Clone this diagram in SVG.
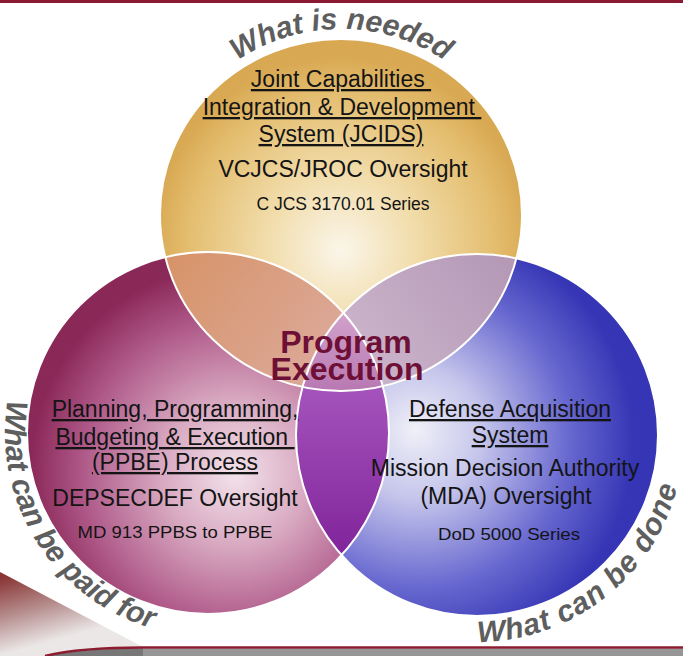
<svg xmlns="http://www.w3.org/2000/svg" width="683" height="656" viewBox="0 0 683 656">
<defs>
<style>
.t{font-family:"Liberation Sans",Arial,sans-serif;fill:#141414;text-anchor:middle}
.u{text-decoration:underline}
.arc{font-family:"Liberation Sans",Arial,sans-serif;font-weight:bold;font-style:italic;font-size:30px;fill:#5e5e5e}
.pe{font-family:"Liberation Sans",Arial,sans-serif;font-weight:bold;font-size:32px;fill:#6e0f36;text-anchor:middle}
.ol{fill:none;stroke:#ffffff;stroke-width:2}
</style>
<radialGradient id="gTop" gradientUnits="userSpaceOnUse" cx="341" cy="245" r="190" fx="341" fy="250">
<stop offset="0" stop-color="#fbf6ea"/><stop offset="0.4" stop-color="#f1dcaa"/><stop offset="0.8" stop-color="#e4be70"/><stop offset="1" stop-color="#d8a852"/>
</radialGradient>
<radialGradient id="gLeft" gradientUnits="userSpaceOnUse" cx="235" cy="470" r="205" fx="235" fy="475">
<stop offset="0" stop-color="#f2e2ea"/><stop offset="0.35" stop-color="#d9aac2"/><stop offset="0.75" stop-color="#ae5888"/><stop offset="1" stop-color="#8a2858"/>
</radialGradient>
<radialGradient id="gRight" gradientUnits="userSpaceOnUse" cx="420" cy="440" r="215" fx="415" fy="430">
<stop offset="0" stop-color="#f0f0f8"/><stop offset="0.3" stop-color="#c6c6ec"/><stop offset="0.7" stop-color="#6868d0"/><stop offset="1" stop-color="#3535b5"/>
</radialGradient>
<linearGradient id="gLT" gradientUnits="userSpaceOnUse" x1="170" y1="265" x2="330" y2="380">
<stop offset="0" stop-color="#d7946a"/><stop offset="1" stop-color="#dcaa9c"/>
</linearGradient>
<linearGradient id="gRT" gradientUnits="userSpaceOnUse" x1="515" y1="265" x2="360" y2="380">
<stop offset="0" stop-color="#b498b6"/><stop offset="1" stop-color="#ccb6cc"/>
</linearGradient>
<linearGradient id="gLR" gradientUnits="userSpaceOnUse" x1="0" y1="390" x2="0" y2="555">
<stop offset="0" stop-color="#a452bc"/><stop offset="1" stop-color="#80249a"/>
</linearGradient>
<linearGradient id="gC" gradientUnits="userSpaceOnUse" x1="0" y1="312" x2="0" y2="392">
<stop offset="0" stop-color="#d2a2cc"/><stop offset="1" stop-color="#b878b2"/>
</linearGradient>
<linearGradient id="gWedge" gradientUnits="userSpaceOnUse" x1="0" y1="578" x2="20" y2="650">
<stop offset="0" stop-color="#8a3434"/><stop offset="0.5" stop-color="#b48a8a"/><stop offset="1" stop-color="#ebe7e7"/>
</linearGradient>
<clipPath id="cTop"><ellipse cx="341" cy="215" rx="181" ry="176"/></clipPath>
<clipPath id="cLeft"><circle cx="208" cy="433" r="181"/></clipPath>
<clipPath id="cRight"><circle cx="477" cy="435" r="181"/></clipPath>
<path id="pTop" d="M155 215 A186 186 0 0 1 527 215"/>
<path id="pLeft" d="M7.7 400 A203 203 0 0 0 309.5 608.8"/>
<path id="pRight" d="M441.1 638.9 A207 207 0 0 0 671.5 364.2"/>
</defs>
<rect x="0" y="0" width="683" height="656" fill="#ffffff"/>
<rect x="0" y="0" width="683" height="3" fill="#8a1a30"/>

<g id="circles">
<ellipse cx="341" cy="215" rx="181" ry="176" fill="url(#gTop)"/>
<circle cx="208" cy="433" r="181" fill="url(#gLeft)"/>
<circle cx="477" cy="435" r="181" fill="url(#gRight)"/>
<circle cx="208" cy="433" r="181" fill="url(#gLT)" clip-path="url(#cTop)"/>
<circle cx="477" cy="435" r="181" fill="url(#gRT)" clip-path="url(#cTop)"/>
<circle cx="477" cy="435" r="181" fill="url(#gLR)" clip-path="url(#cLeft)"/>
<g clip-path="url(#cLeft)"><ellipse cx="341" cy="215" rx="181" ry="176" fill="url(#gC)" clip-path="url(#cRight)"/></g>
<ellipse class="ol" cx="341" cy="215" rx="181" ry="176"/>
<circle class="ol" cx="208" cy="433" r="181"/>
<circle class="ol" cx="477" cy="435" r="181"/>
</g>

<g id="node-jcids">
<text class="t u" x="341" y="87" font-size="23">Joint Capabilities&#160;</text>
<text class="t u" x="342" y="115" font-size="23">Integration &amp; Development&#160;</text>
<text class="t u" x="341" y="142" font-size="23">System (JCIDS)</text>
<text class="t" x="343" y="177" font-size="23">VCJCS/JROC Oversight</text>
<text class="t" x="343" y="210" font-size="17.5">C JCS 3170.01 Series</text>
</g>

<g id="node-ppbe">
<text class="t u" x="175" y="417" font-size="23">Planning, Programming,</text>
<text class="t u" x="175" y="445" font-size="23">Budgeting &amp; Execution&#160;</text>
<text class="t u" x="175" y="470" font-size="23">(PPBE) Process</text>
<text class="t" x="175" y="506" font-size="23">DEPSECDEF Oversight</text>
<text class="t" x="175" y="538" font-size="17" textLength="195" lengthAdjust="spacingAndGlyphs">MD 913 PPBS to PPBE</text>
</g>

<g id="node-das">
<text class="t u" x="510" y="417" font-size="23">Defense Acquisition</text>
<text class="t u" x="510" y="443" font-size="23">System</text>
<text class="t" x="505" y="476" font-size="23">Mission Decision Authority</text>
<text class="t" x="506" y="504" font-size="23">(MDA) Oversight</text>
<text class="t" x="509" y="540" font-size="17" textLength="142" lengthAdjust="spacingAndGlyphs">DoD 5000 Series</text>
</g>

<g id="node-program-execution">
<text class="pe" x="346" y="353">Program</text>
<text class="pe" x="347" y="380">Execution</text>
</g>

<g id="arc-labels">
<text class="arc" font-size="29"><textPath href="#pTop" startOffset="50%" text-anchor="middle">What is needed</textPath></text>
<text class="arc"><textPath href="#pLeft" startOffset="0">What can be paid for</textPath></text>
<text class="arc" letter-spacing="1"><textPath href="#pRight" startOffset="40%" text-anchor="middle">What can be done</textPath></text>
</g>

<g id="footer">
<path d="M0 572 L143 647 Q80 647 45 656 L0 656 Z" fill="url(#gWedge)"/>
<path d="M45 656 Q80 648.5 143 648.5 L683 648.5 L683 656 Z" fill="#969696"/>
<path d="M45 656 Q80 648.5 143 648.5 L143 656 Z" fill="#777777"/>
<path d="M45 656 Q80 647.5 143 647.5 L683 647.5" fill="none" stroke="#8c1c30" stroke-width="2.5"/>
</g>
</svg>
